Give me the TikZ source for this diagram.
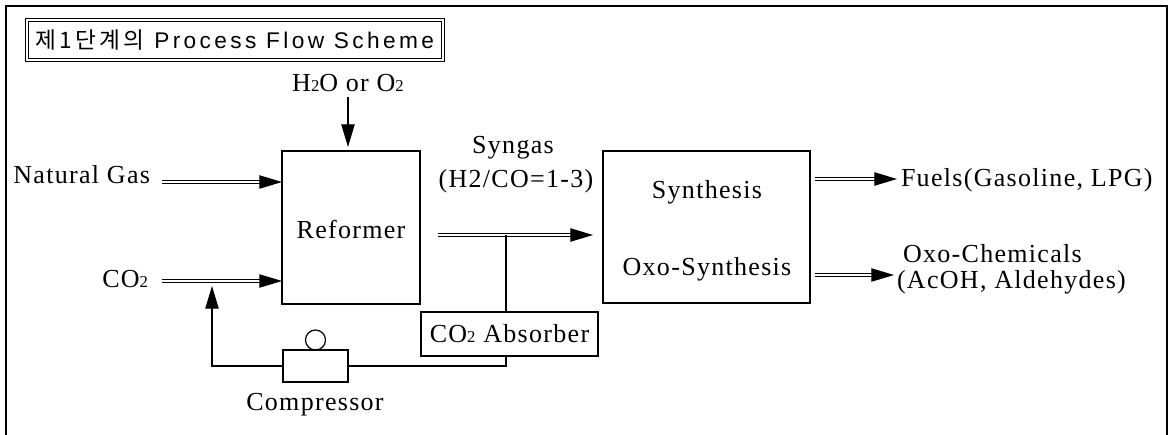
\documentclass[tikz,border=0pt]{standalone}
\usepackage{fontspec}
\setmainfont{Liberation Serif}[LetterSpace=5]
\newfontfamily\krfont{Noto Sans CJK KR}[LetterSpace=14]
\newfontfamily\titlefont{Liberation Sans}[LetterSpace=15]
\usetikzlibrary{arrows.meta}
\newcommand\lbsize{\fontsize{19.5}{23}\selectfont}
\newcommand\subtwo{{\fontsize{12.5}{12}\selectfont 2}}
\begin{document}
\begin{tikzpicture}[x=0.75pt,y=-0.75pt,
  every node/.style={inner sep=0pt, outer sep=0pt, font=\lbsize},
  box/.style={draw, line width=0.9pt},
  dblarrow/.style={double, double distance=1.8pt, line width=0.8pt, -{Triangle[length=17pt,width=10pt]}},
  sglarrow/.style={line width=0.85pt, -{Triangle[length=17pt,width=10pt]}},
  conn/.style={line width=0.85pt}]
\useasboundingbox (0,0) rectangle (1174,435);
% outer frame
\draw[line width=2pt] (6,435) -- (6,6) -- (1167,6) -- (1167,435);
% title
\node[draw, double, double distance=2pt, line width=0.75pt, minimum width=312pt, minimum height=30pt] (title) at (235,40)
  {\titlefont\fontsize{17}{19}\selectfont {\krfont 제1단계의} Process Flow Scheme};
% boxes
\node[box, minimum width=103.5pt, minimum height=114.75pt] (ref) at (351,227.5) {};
\node[anchor=base] (reflbl) at (351,238) {Reformer};
\node[box, minimum width=155.25pt, minimum height=114pt] (syn) at (706.5,227) {};
\node[anchor=base] (syn1) at (707,198) {Synthesis};
\node[anchor=base] (syn2) at (707,275) {Oxo-Synthesis};
\node[box, minimum width=132.75pt, minimum height=33pt] (abs) at (509.5,334) {CO\subtwo\ Absorber};
\node[box, minimum width=48.75pt, minimum height=24pt] (comp) at (315.5,366) {};
\node[draw, circle, line width=0.9pt, minimum size=15pt] (pump) at (315.5,340) {};
\node[anchor=base] (complbl) at (315,410) {Compressor};
% labels
\node[anchor=base east] (ng) at (150,183) {Natural Gas};
\node[anchor=base east] (co2) at (148,287) {CO\subtwo};
\node[anchor=base] (h2o) at (348,91) {H\subtwo O or O\subtwo};
\node[anchor=base] (sg1) at (513,153) {Syngas};
\node[anchor=base] (sg2) at (516,187) {(H2/CO=1-3)};
\node[anchor=base west] (fuels) at (901,186) {Fuels(Gasoline, LPG)};
\node[anchor=base west] (oxo1) at (903,262) {Oxo-Chemicals};
\node[anchor=base west] (oxo2) at (897,288) {(AcOH, Aldehydes)};
% coordinates
\coordinate (br) at (506,235);
\coordinate (fb) at (212,366);
\coordinate (fbtip) at (212,286);
\coordinate (fa) at (897,179);
\coordinate (oa) at (894,275);
% connectors
\draw[sglarrow] ([yshift=-4.5pt]h2o.base) -- ([yshift=3pt]h2o.base |- ref.north);
\draw[dblarrow] ([shift={(9pt,0.75pt)}]ng.base east) -- ([yshift=0.75pt]ng.base east -| ref.west);
\draw[dblarrow] ([shift={(10.5pt,4.5pt)}]co2.base east) -- ([yshift=4.5pt]co2.base east -| ref.west);
\draw[dblarrow] ([xshift=13.5pt]ref.east |- br) -- ([xshift=-7.5pt]syn.west |- br);
\draw[conn] (br) -- (br |- abs.north);
\draw[conn] (br |- abs.south) -- (br |- comp.east) -- (comp.east);
\draw[sglarrow] (comp.west) -- (fb) -- (fbtip);
\draw[dblarrow] ([xshift=3.75pt]syn.east |- fa) -- (fa);
\draw[dblarrow] ([xshift=3.75pt]syn.east |- oa) -- (oa);
\end{tikzpicture}
\end{document}
